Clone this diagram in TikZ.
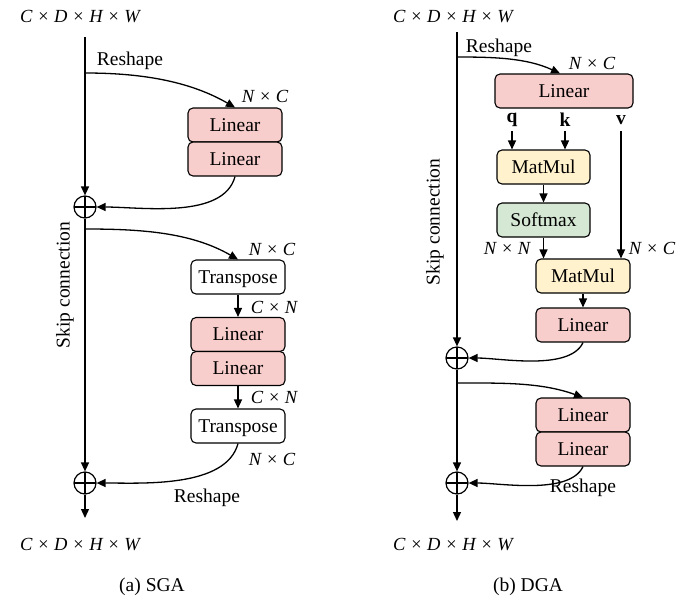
\documentclass[tikz,border=0pt]{standalone}
\usepackage{fontspec}
\setmainfont{Liberation Serif}
\usetikzlibrary{arrows.meta,calc}
\newcommand{\dims}[1]{{\fontsize{18.5}{20}\selectfont\itshape #1}}
\definecolor{pinkfill}{HTML}{F8CECC}
\definecolor{yelfill}{HTML}{FFF2CC}
\definecolor{grnfill}{HTML}{D5E8D4}
\tikzset{
  every node/.style={font=\fontsize{19.5}{22}\selectfont, inner sep=0pt},
  box/.style={draw, line width=1.1pt, rounded corners=5pt, minimum height=34pt, text depth=0pt},
  lin/.style={box, fill=pinkfill, minimum width=94pt},
  trn/.style={box, fill=white, minimum width=94pt},
  mmb/.style={box, fill=yelfill, minimum width=93pt},
  smb/.style={box, fill=grnfill, minimum width=93pt},
  plus/.style={draw, circle, line width=1.2pt, minimum size=22pt, path picture={
     \draw[line width=1.2pt] (path picture bounding box.north) -- (path picture bounding box.south)
       (path picture bounding box.west) -- (path picture bounding box.east);}},
  ln/.style={line width=1.3pt},
  arr/.style={ln, -{Triangle[length=9pt,width=8pt]}},
}
\begin{document}
\begin{tikzpicture}[x=1pt,y=-1pt]
\useasboundingbox (0,0) rectangle (699,600);

% ---------------- (a) SGA ----------------
\node (atop) at (80,17) {\dims{C × D × H × W}};
\coordinate (as) at (85,37);
\coordinate (ab1) at (85,73);
\coordinate (ab2) at (85,229);
\node[plus] (ac1) at (85,207) {};
\node[plus] (ac2) at (85,483) {};
\coordinate (aend) at (85,518);
\node (abot) at (80,545) {\dims{C × D × H × W}};

\node[lin] (al1) at (235,125) {Linear};
\node[lin] (al2) at (235,159) {Linear};
\node[trn] (at1) at (238,277) {Transpose};
\node[lin] (al3) at (238,334.5) {Linear};
\node[lin] (al4) at (238,368.5) {Linear};
\node[trn] (at2) at (238,426) {Transpose};

\draw[arr] (as) -- (ac1);
\draw[arr] (ac1) -- (ac2);
\draw[arr] (ac2) -- (aend);
\draw[arr] (ab1) to[out=0,in=150,looseness=0.9] (al1.north);
\draw[arr] (al2.south) to[out=-105,in=0,looseness=0.8] (ac1.east);
\draw[arr] (ab2) to[out=0,in=150,looseness=0.9] (at1.north);
\draw[arr] (at1.south) -- (al3.north);
\draw[arr] (al4.south) -- (at2.north);
\draw[arr] (at2.south) to[out=-105,in=0,looseness=0.8] (ac2.east);

\node (ar1) at (130,61) {Reshape};
\node (anc1) at (265,96) {\dims{N × C}};
\node (anc2) at (272,249) {\dims{N × C}};
\node (acn1) at (274,307) {\dims{C × N}};
\node (acn2) at (274,397) {\dims{C × N}};
\node (anc3) at (272,459) {\dims{N × C}};
\node (ar2) at (207,498) {Reshape};
\node[rotate=90] (askip) at (65,285) {Skip connection};
\node (acap) at (152,587) {(a) SGA};

% ---------------- (b) DGA ----------------
\node (btop) at (453,17) {\dims{C × D × H × W}};
\coordinate (bs) at (457,32);
\coordinate (bb1) at (457,57);
\coordinate (bb2) at (457,383);
\node[plus] (bc1) at (457,358) {};
\node[plus] (bc2) at (457,483) {};
\coordinate (bend) at (457,521);
\node (bbot) at (453,545) {\dims{C × D × H × W}};

\node[lin, minimum width=138pt] (bl0) at (564,91) {Linear};
\node (q) at (512,120) {\textbf{q}};
\node (k) at (565,120) {\textbf{k}};
\node (v) at (621,120) {\textbf{v}};
\node[mmb] (bm1) at (543.5,167) {MatMul};
\node[smb] (bsm) at (543.5,220) {Softmax};
\node[mmb, minimum width=94pt] (bm2) at (583,276) {MatMul};
\node[lin] (bl1) at (583,325) {Linear};
\node[lin] (bl2) at (583,415) {Linear};
\node[lin] (bl3) at (583,449) {Linear};

\draw[arr] (bs) -- (bc1);
\draw[arr] (bc1) -- (bc2);
\draw[arr] (bc2) -- (bend);
\draw[arr] (bb1) to[out=0,in=155,looseness=0.9] ($(bl0.north)+(-4,0)$);
\draw[arr] ($(q)+(0,11)$) -- (q |- bm1.north);
\draw[arr] ($(k)+(0,11)$) -- (k |- bm1.north);
\draw[arr] ($(v)+(0,11)$) -- (v |- bm2.north);
\draw[arr] (bm1.south) -- (bsm.north);
\draw[arr] (bsm.south) -- (bsm.south |- bm2.north);
\draw[arr] (bm2.south) -- (bl1.north);
\draw[arr] (bl1.south) to[out=-115,in=0,looseness=0.7] (bc1.east);
\draw[arr] (bb2) to[out=0,in=160,looseness=0.9] (bl2.north);
\draw[arr] (bl3.south) to[out=-115,in=0,looseness=0.7] (bc2.east);

\node (br1) at (499,48) {Reshape};
\node (bnc1) at (592,63) {\dims{N × C}};
\node (bnn) at (507,248) {\dims{N × N}};
\node (bnc2) at (652,248) {\dims{N × C}};
\node (br2) at (583,488) {Reshape};
\node[rotate=90] (bskip) at (435,222) {Skip connection};
\node (bcap) at (528,587) {(b) DGA};
\end{tikzpicture}
\end{document}
